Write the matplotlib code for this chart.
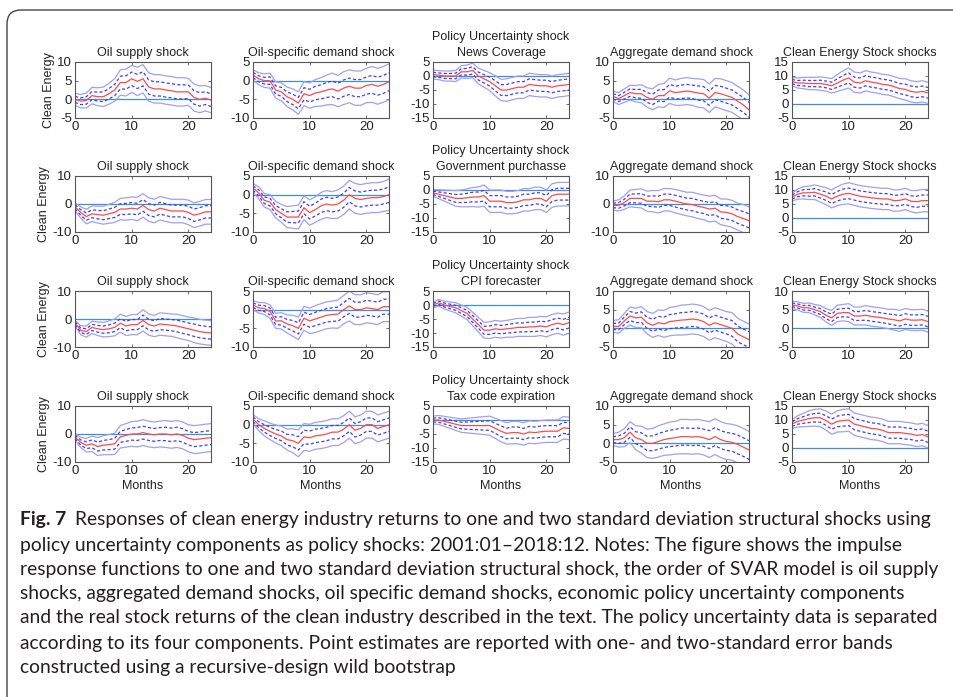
import matplotlib.pyplot as plt
from matplotlib.patches import FancyBboxPatch
import numpy as np

months = np.arange(25)

# point estimates (rows: policy component, cols: shock)
est_r1c1 = [0, -0.5, -0.3, 1, 0.7, 0.7, 1.5, 2.5, 4.5, 4.5, 5.5, 4.8, 5.5, 3.3, 2.8, 2.8, 2.5, 2.3, 2, 2, 2, 0.5, 0, 0.3, -0.2]
est_r1c2 = [1.5, 0.5, 0, 0, -2.5, -3, -4.3, -5, -6, -3.5, -4, -3.3, -3, -2.5, -2.2, -2.8, -2, -1.5, -2, -2, -1.3, -1, -1.5, -1, -0.3]
est_r1c3 = [0.5, 0.3, 0, 0, 0, 1.5, 1.5, 2, 0, -1, -2, -3.5, -5, -5, -4.5, -4, -4, -3, -3.3, -3.5, -3.5, -4, -3.5, -3.3, -3]
est_r1c4 = [0.8, 0.2, 1, 1.8, 1.5, 1.5, 0.5, 0, 1, 1, 2.3, 1.8, 2, 2.2, 2, 1.7, 1.5, 0.3, 1.8, 1.5, 1, 0.5, -0.5, -1.5, -2.8]
est_r1c5 = [8, 7.5, 7.5, 7.3, 7.3, 7.3, 7, 6.5, 7.5, 8.5, 9.3, 7.8, 7.5, 8.3, 7.8, 7.5, 7, 6.8, 6.2, 5.5, 5.2, 4.5, 4.2, 4.5, 4]

est_r2c1 = [-1, -3, -4.5, -3.5, -3.8, -4, -3.5, -3, -1.8, -1.8, -1.5, -1.8, -0.5, -2, -2.5, -1.5, -2, -2.5, -2.5, -2.5, -3, -4, -3.5, -2.8, -2.8]
est_r2c2 = [1.8, 0.5, -1.5, -2, -4, -5, -6, -6, -6, -3.5, -4.8, -4, -3, -2.5, -2.8, -2.5, -1.5, 0, -1, -1.3, -1, -0.8, -0.8, -0.5, 0]
est_r2c3 = [-1, -1.5, -2, -2.5, -3, -3, -2.8, -2.5, -2.5, -2, -4, -4, -4, -4.5, -4.5, -4.2, -3.5, -3.5, -3, -3, -4, -2, -1.5, -1.5, -1.5]
est_r2c4 = [-0.5, -0.5, 0.5, 2, 2, 2, 1, 1, 0.8, 1.5, 1.5, 1, 0.5, 0, -0.2, -0.8, -1.2, -1.8, -1.5, -2.8, -3, -3.5, -4.5, -5.2, -6]
est_r2c5 = [7.5, 8.5, 9, 9, 9.2, 8.5, 7.8, 6.8, 7.8, 8.5, 8.8, 8.3, 7.8, 7.5, 7.2, 7, 6.8, 6.8, 6.2, 6.3, 6.8, 6, 5.8, 6.2, 6.2]

est_r3c1 = [-1.5, -4, -4.5, -3, -3.5, -3.8, -3.5, -3, -1.5, -2.5, -2, -2, -0.5, -2, -2.5, -1.8, -2, -2.2, -2.5, -3, -3.5, -4, -4.5, -4.8, -5]
est_r3c2 = [1.2, 0.5, 0.3, -0.5, -3, -3, -3.8, -4.3, -5, -2.3, -3, -2.5, -2, -1.5, -1.3, -1.2, 0, 1, 0, 0, 0.5, 0.3, 0, 0.8, 0.8]
est_r3c3 = [0, 0.8, 0, -0.5, -1, -2, -3, -5, -7, -9, -9, -8.5, -8.8, -8.5, -8.3, -8, -8, -7.8, -7.8, -7.5, -7.8, -7, -6.5, -7, -6.3]
est_r3c4 = [0.5, 0.5, 2, 3.3, 2.8, 3, 1.5, 0.8, 1.5, 1.2, 1.8, 2, 2.2, 2.3, 2.5, 2.3, 1.8, 0.8, 1.5, 1, 0.5, 0, -1.5, -2.3, -3]
est_r3c5 = [6.3, 6, 5.5, 5.5, 5, 4.5, 3.5, 2.8, 4, 4.2, 4.2, 3.3, 3.3, 3.5, 3.2, 3, 2.8, 2.5, 2.3, 2, 2.5, 2.2, 2.2, 2.3, 1.8]

est_r4c1 = [-1, -3, -4, -3.5, -4.5, -4, -3.8, -3.5, -1, -0.5, 0, 0, 0.5, 0, -0.3, 0, 0, -0.3, 0, -0.5, -1.5, -2, -1.8, -1.5, -1.3]
est_r4c2 = [1.5, 0, -1, -1.8, -2.5, -3, -4, -4.3, -5, -3.3, -3.5, -3, -2.8, -2.5, -2, -2, -1.2, 0, -1.5, -1, 0, 0, -1, -0.5, 0]
est_r4c3 = [0, 0, -0.5, -1, -1.5, -2, -2, -2, -2, -2, -2, -3, -4, -4.8, -4.5, -4.5, -5, -4.3, -4.5, -4.2, -4, -4, -4, -2.8, -3]
est_r4c4 = [1, 1, 1.5, 3, 1.5, 1, 0, 0, 0.5, 1, 1.3, 1.5, 1.8, 1.8, 1.7, 1.8, 1.5, 1, 1.8, 1, 0.5, 0.3, -0.3, -1, -1.8]
est_r4c5 = [8.5, 9.5, 10, 10.5, 10.8, 10.8, 9.8, 8.5, 9.5, 9.8, 10, 8.5, 8, 7.5, 7, 6.8, 6.3, 5.5, 5.5, 5.5, 5.2, 5, 4.5, 4.8, 4]

# one standard error
se_r1c1 = [0.8, 0.9, 1.0, 1.1, 1.2, 1.3, 1.4, 1.5, 1.7, 1.8, 1.8, 1.9, 1.9, 1.9, 1.9, 1.9, 1.9, 1.9, 1.9, 1.9, 1.8, 1.8, 1.8, 1.7, 1.7]
se_r1c2 = [0.7, 0.8, 0.9, 1.0, 1.1, 1.2, 1.3, 1.4, 1.5, 1.6, 1.7, 1.8, 1.9, 2.0, 2.1, 2.1, 2.2, 2.2, 2.3, 2.3, 2.3, 2.4, 2.4, 2.4, 2.4]
se_r1c3 = [0.8, 0.8, 0.9, 0.9, 1.0, 1.1, 1.2, 1.3, 1.4, 1.5, 1.6, 1.8, 1.9, 2.0, 2.0, 2.0, 2.0, 2.0, 2.0, 2.0, 2.0, 2.0, 2.0, 2.0, 2.0]
se_r1c4 = [0.7, 0.8, 0.9, 1.0, 1.1, 1.2, 1.3, 1.4, 1.5, 1.6, 1.7, 1.7, 1.8, 1.8, 1.8, 1.9, 1.9, 1.9, 1.9, 2.0, 2.0, 2.0, 2.0, 2.0, 2.0]
se_r1c5 = [0.75, 0.9, 1.0, 1.1, 1.1, 1.2, 1.2, 1.3, 1.5, 1.7, 1.8, 1.8, 1.8, 1.8, 1.8, 1.8, 1.8, 1.8, 1.8, 1.8, 1.9, 1.9, 1.9, 1.9, 1.9]

se_r2c1 = [0.7, 1.0, 1.3, 1.4, 1.5, 1.6, 1.7, 1.8, 1.9, 2.0, 2.0, 2.1, 2.1, 2.1, 2.1, 2.1, 2.1, 2.1, 2.1, 2.1, 2.2, 2.2, 2.2, 2.2, 2.2]
se_r2c2 = [0.6, 0.8, 0.9, 1.0, 1.1, 1.2, 1.4, 1.5, 1.6, 1.6, 1.7, 1.7, 1.8, 1.8, 1.8, 1.9, 1.9, 1.9, 2.0, 2.0, 2.0, 2.0, 2.0, 2.0, 2.1]
se_r2c3 = [0.6, 0.8, 1.0, 1.2, 1.4, 1.5, 1.6, 1.7, 1.8, 1.9, 2.0, 2.0, 2.0, 2.0, 2.0, 2.0, 2.0, 2.0, 2.0, 2.0, 2.0, 2.1, 2.1, 2.1, 2.1]
se_r2c4 = [0.8, 1.0, 1.2, 1.5, 1.6, 1.7, 1.8, 1.9, 2.0, 2.0, 2.0, 2.1, 2.1, 2.1, 2.2, 2.2, 2.2, 2.3, 2.3, 2.3, 2.4, 2.4, 2.4, 2.5, 2.5]
se_r2c5 = [0.7, 0.9, 1.1, 1.2, 1.3, 1.4, 1.5, 1.6, 1.7, 1.8, 1.9, 1.9, 1.9, 1.9, 1.9, 1.9, 1.9, 1.9, 1.9, 1.9, 1.9, 1.9, 2.0, 2.0, 2.0]

se_r3c1 = [0.5, 0.8, 1.0, 1.1, 1.2, 1.3, 1.4, 1.5, 1.6, 1.7, 1.8, 1.8, 1.9, 1.9, 1.9, 2.0, 2.0, 2.0, 2.1, 2.1, 2.1, 2.2, 2.2, 2.2, 2.2]
se_r3c2 = [0.6, 0.7, 0.8, 0.9, 1.0, 1.1, 1.2, 1.4, 1.5, 1.6, 1.7, 1.8, 1.8, 1.8, 1.8, 1.9, 1.9, 2.0, 2.0, 2.0, 2.0, 2.0, 2.0, 2.0, 2.0]
se_r3c3 = [0.5, 0.6, 0.7, 0.8, 0.9, 1.0, 1.1, 1.2, 1.3, 1.4, 1.5, 1.5, 1.5, 1.5, 1.6, 1.6, 1.6, 1.7, 1.7, 1.7, 1.8, 1.8, 1.8, 1.9, 1.9]
se_r3c4 = [0.8, 0.9, 1.0, 1.2, 1.3, 1.4, 1.5, 1.6, 1.7, 1.8, 1.9, 1.9, 2.0, 2.0, 2.0, 2.0, 2.0, 2.0, 2.0, 2.0, 2.0, 2.1, 2.1, 2.1, 2.1]
se_r3c5 = [0.5, 0.55, 0.6, 0.65, 0.7, 0.8, 0.9, 1.0, 1.1, 1.1, 1.2, 1.2, 1.2, 1.3, 1.3, 1.3, 1.3, 1.3, 1.4, 1.4, 1.4, 1.4, 1.4, 1.4, 1.4]

se_r4c1 = [0.6, 0.9, 1.2, 1.4, 1.6, 1.7, 1.8, 1.9, 2.0, 2.1, 2.2, 2.3, 2.3, 2.3, 2.3, 2.3, 2.4, 2.4, 2.4, 2.4, 2.4, 2.5, 2.5, 2.5, 2.5]
se_r4c2 = [0.6, 0.8, 1.0, 1.1, 1.2, 1.3, 1.4, 1.6, 1.8, 1.8, 1.8, 1.8, 1.8, 1.8, 1.8, 1.8, 1.8, 1.8, 1.8, 1.8, 1.8, 1.8, 1.8, 1.8, 1.8]
se_r4c3 = [0.7, 0.8, 0.9, 1.0, 1.1, 1.2, 1.3, 1.4, 1.5, 1.6, 1.7, 1.8, 1.9, 1.9, 2.0, 2.0, 2.0, 2.0, 2.0, 2.0, 2.0, 2.0, 2.0, 2.0, 2.0]
se_r4c4 = [0.8, 1.0, 1.2, 1.4, 1.6, 1.8, 1.9, 2.0, 2.1, 2.1, 2.2, 2.2, 2.3, 2.3, 2.3, 2.3, 2.3, 2.4, 2.4, 2.4, 2.4, 2.4, 2.5, 2.5, 2.5]
se_r4c5 = [0.8, 1.0, 1.2, 1.4, 1.5, 1.6, 1.7, 1.8, 1.9, 2.0, 2.0, 2.0, 2.0, 2.0, 2.0, 2.0, 2.0, 2.0, 2.0, 2.0, 2.0, 2.0, 2.0, 2.0, 2.0]

shock_titles = ["Oil supply shock", "Oil-specific demand shock", "Policy Uncertainty shock",
                "Aggregate demand shock", "Clean Energy Stock shocks"]
pu_components = ["News Coverage", "Government purchasse", "CPI forecaster", "Tax code expiration"]

ylims = [[(-5, 10), (-10, 5), (-15, 5), (-5, 10), (-5, 15)],
         [(-10, 10), (-10, 5), (-15, 5), (-10, 10), (-5, 15)],
         [(-10, 10), (-10, 5), (-15, 5), (-5, 10), (-5, 10)],
         [(-10, 10), (-10, 5), (-15, 5), (-5, 10), (-5, 15)]]
yticks_for = {(-5, 10): [-5, 0, 5, 10], (-10, 10): [-10, 0, 10], (-10, 5): [-10, -5, 0, 5],
              (-15, 5): [-15, -10, -5, 0, 5], (-5, 15): [-5, 0, 5, 10, 15]}
xticks = [0, 10, 20]

caption_lines = [
    "Responses of clean energy industry returns to one and two standard deviation structural shocks using",
    "policy uncertainty components as policy shocks: 2001:01\u20132018:12. Notes: The figure shows the impulse",
    "response functions to one and two standard deviation structural shock, the order of SVAR model is oil supply",
    "shocks, aggregated demand shocks, oil specific demand shocks, economic policy uncertainty components",
    "and the real stock returns of the clean industry described in the text. The policy uncertainty data is separated",
    "according to its four components. Point estimates are reported with one- and two-standard error bands",
    "constructed using a recursive-design wild bootstrap",
]

est_grid = [[est_r1c1, est_r1c2, est_r1c3, est_r1c4, est_r1c5],
            [est_r2c1, est_r2c2, est_r2c3, est_r2c4, est_r2c5],
            [est_r3c1, est_r3c2, est_r3c3, est_r3c4, est_r3c5],
            [est_r4c1, est_r4c2, est_r4c3, est_r4c4, est_r4c5]]
se_grid = [[se_r1c1, se_r1c2, se_r1c3, se_r1c4, se_r1c5],
           [se_r2c1, se_r2c2, se_r2c3, se_r2c4, se_r2c5],
           [se_r3c1, se_r3c2, se_r3c3, se_r3c4, se_r3c5],
           [se_r4c1, se_r4c2, se_r4c3, se_r4c4, se_r4c5]]

plt.rcParams['font.family'] = ['Liberation Sans', 'DejaVu Sans']
plt.rcParams['axes.unicode_minus'] = False

W, H = 954, 697
fig = plt.figure(figsize=(W / 100, H / 100), dpi=100)

red_c = '#ff4a4a'
dash_c = '#3d3dff'
outer_c = '#a0a0f0'
zero_c = '#3f8fd8'
axis_c = '#555555'
txt_c = '#222222'
fs = 9
tick_fs = 9.5

col_left = [75, 253, 433, 613, 792]
row_top = [62, 176, 291, 406]
aw, ah = 136, 56

for i in range(4):
    for j in range(5):
        ax = fig.add_axes([col_left[j] / W, 1 - (row_top[i] + ah) / H, aw / W, ah / H])
        est = np.array(est_grid[i][j])
        se = np.array(se_grid[i][j])
        ax.axhline(0, color=zero_c, lw=0.9)
        ax.plot(months, est + 2 * se, color=outer_c, lw=0.9)
        ax.plot(months, est - 2 * se, color=outer_c, lw=0.9)
        ax.plot(months, est + se, color=dash_c, lw=0.9, ls=(0, (2.5, 1.8)))
        ax.plot(months, est - se, color=dash_c, lw=0.9, ls=(0, (2.5, 1.8)))
        ax.plot(months, est, color=red_c, lw=0.9)

        ax.set_xlim(0, 24)
        ax.set_ylim(*ylims[i][j])
        ax.set_yticks(yticks_for[ylims[i][j]])
        ax.set_xticks(xticks)
        ax.tick_params(direction='in', top=True, right=True, length=2.5, width=0.6,
                       color=axis_c, labelsize=tick_fs, pad=2, labelcolor=txt_c)
        for sp in ax.spines.values():
            sp.set_color(axis_c)
            sp.set_linewidth(0.8)

        if j == 2:
            ax.set_title(shock_titles[j] + "\n" + pu_components[i], fontsize=fs,
                         pad=4, linespacing=1.5, color=txt_c)
        else:
            ax.set_title(shock_titles[j], fontsize=fs, pad=4.5, color=txt_c)
        if j == 0:
            ax.set_ylabel("Clean Energy", fontsize=fs, labelpad=2, color=txt_c)
        if i == 3:
            ax.set_xlabel("Months", fontsize=fs, labelpad=2, color=txt_c)

# rounded frame around the figure
frame = FancyBboxPatch((7, -30), 1100, H - 10 + 30, boxstyle="round,pad=0,rounding_size=14",
                       transform=None, fill=False, edgecolor='#444444', lw=1.0)
fig.patches.append(frame)

# caption
cap_fs = 13.9
cap_c = '#231f20'
cap_font = ['Lato', 'DejaVu Sans']
line_y = [520, 545, 569, 594, 618, 643, 667]
renderer = fig.canvas.get_renderer()
t = fig.text(20 / W, 1 - line_y[0] / H, "Fig. 7", fontsize=cap_fs, fontweight='bold',
             family=cap_font, va='center', color=cap_c)
fig_w = t.get_window_extent(renderer=renderer).x1
for k, line in enumerate(caption_lines):
    x0 = (fig_w + 9) / W if k == 0 else 20 / W
    fig.text(x0, 1 - line_y[k] / H, line, fontsize=cap_fs, family=cap_font,
             va='center', color=cap_c)

fig.savefig("out.png", dpi=100)
